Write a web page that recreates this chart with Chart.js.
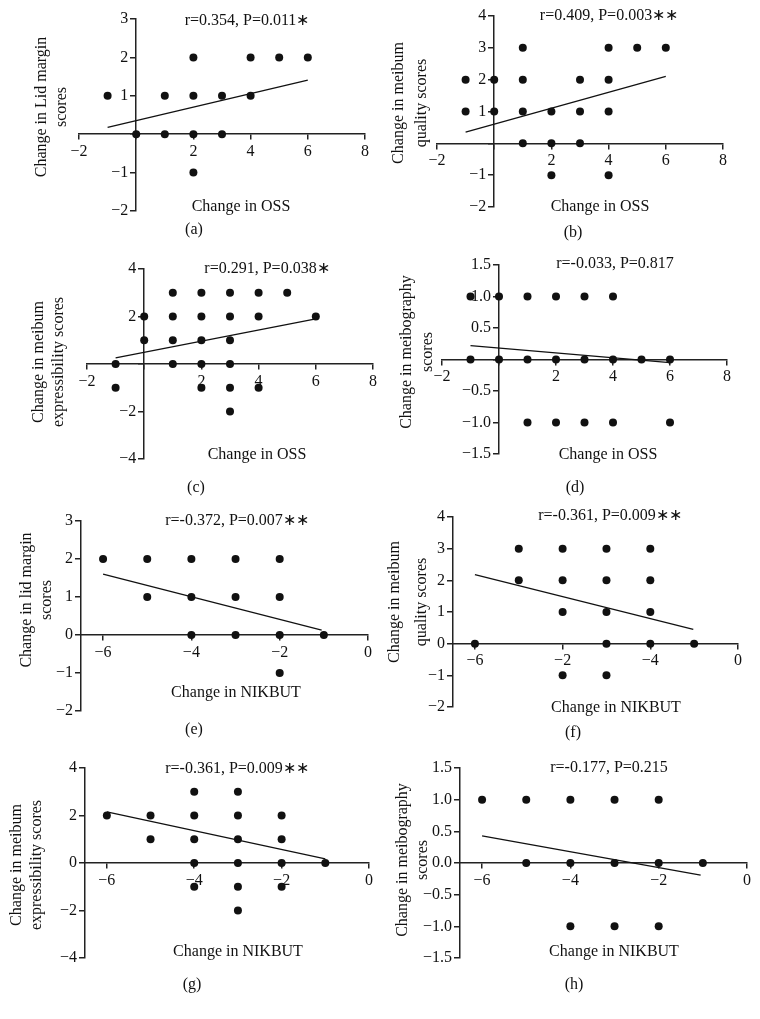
<!DOCTYPE html>
<html>
<head>
<meta charset="utf-8">
<script src="https://cdn.jsdelivr.net/npm/chart.js@4.4.1/dist/chart.umd.min.js"></script>
<style>
  html, body { margin: 0; padding: 0; background: #fff; }
  #page { position: relative; width: 760px; height: 1019px; overflow: hidden; }
  #page canvas { position: absolute; }
</style>
</head>
<body>
<div id="page"></div>
<script>
//panel data
const aX = [-1, 0, 1, 1, 2, 2, 2, 2, 3, 3, 4, 4, 5, 6];
const aY = [1, 0, 1, 0, 2, 1, 0, -1, 1, 0, 2, 1, 2, 2];
const aFitX = [-1, 6];
const aFitY = [0.18, 1.41];

const bX = [-1, -1, 0, 0, 1, 1, 1, 1, 2, 2, 2, 3, 3, 3, 4, 4, 4, 4, 5, 6];
const bY = [2, 1, 2, 1, 3, 2, 1, 0, 1, 0, -1, 2, 1, 0, 3, 2, 1, -1, 3, 3];
const bFitX = [-1, 6];
const bFitY = [0.35, 2.1];

const cX = [-1, -1, 0, 0, 1, 1, 1, 1, 2, 2, 2, 2, 2, 3, 3, 3, 3, 3, 3, 4, 4, 4, 5, 6];
const cY = [0, -1, 2, 1, 3, 2, 1, 0, 3, 2, 1, 0, -1, 3, 2, 1, 0, -1, -2, 3, 2, -1, 3, 2];
const cFitX = [-1, 6];
const cFitY = [0.26, 1.9];

const dX = [-1, 0, 1, 2, 3, 4, -1, 0, 1, 2, 3, 4, 5, 6, 1, 2, 3, 4, 6];
const dY = [1, 1, 1, 1, 1, 1, 0, 0, 0, 0, 0, 0, 0, 0, -1, -1, -1, -1, -1];
const dFitX = [-1, 6];
const dFitY = [0.22, -0.05];

const eX = [-6, -5, -4, -3, -2, -5, -4, -3, -2, -4, -3, -2, -1, -2];
const eY = [2, 2, 2, 2, 2, 1, 1, 1, 1, 0, 0, 0, 0, -1];
const eFitX = [-6, -1.05];
const eFitY = [1.6, 0.13];

const fX = [-6, -5, -5, -4, -4, -4, -4, -3, -3, -3, -3, -3, -2, -2, -2, -2, -1];
const fY = [0, 3, 2, 3, 2, 1, -1, 3, 2, 1, 0, -1, 3, 2, 1, 0, 0];
const fFitX = [-6, -1.02];
const fFitY = [2.18, 0.45];

const gX = [-6, -5, -5, -4, -4, -4, -4, -4, -3, -3, -3, -3, -3, -3, -2, -2, -2, -2, -1];
const gY = [2, 2, 1, 3, 2, 1, 0, -1, 3, 2, 1, 0, -1, -2, 2, 1, 0, -1, 0];
const gFitX = [-6, -1];
const gFitY = [2.15, 0.17];

const hX = [-6, -5, -4, -3, -2, -5, -4, -3, -2, -1, -4, -3, -2];
const hY = [1, 1, 1, 1, 1, 0, 0, 0, 0, 0, -1, -1, -1];
const hFitX = [-6, -1.05];
const hFitY = [0.43, -0.19];

//tick values and labels
const ossTicks = [-2, 0, 2, 4, 6, 8];
const ossLabels = ['−2', '', '2', '4', '6', '8'];
const nikTicks = [-6, -4, -2, 0];
const nikLabels = ['−6', '−4', '−2', '0'];
const nikLabelsF = ['−6', '−2', '−4', '0'];

const ticks5 = [-2, -1, 0, 1, 2, 3];
const ticks6 = [-2, -1, 0, 1, 2, 3, 4];
const ticksEven = [-4, -2, 0, 2, 4];
const ticksHalf = [-1.5, -1, -0.5, 0, 0.5, 1, 1.5];
const labels5 = ['−2', '−1', '', '1', '2', '3'];
const labels5Zero = ['−2', '−1', '0', '1', '2', '3'];
const labels6 = ['−2', '−1', '', '1', '2', '3', '4'];
const labels6Zero = ['−2', '−1', '0', '1', '2', '3', '4'];
const labelsEven = ['−4', '−2', '', '2', '4'];
const labelsEvenZero = ['−4', '−2', '0', '2', '4'];
const labelsHalf = ['−1.5', '−1.0', '−0.5', '', '0.5', '1.0', '1.5'];
const labelsHalfZero = ['−1.5', '−1.0', '−0.5', '0.0', '0.5', '1.0', '1.5'];

const FONT = '"Liberation Serif", "Times New Roman", serif';
const INK = '#111';

//layout of each panel, page coordinates
const panels = [
  { xs: aX, ys: aY, fitX: aFitX, fitY: aFitY, xMin: -2, xMax: 8, yMin: -2, yMax: 3, yAt: 0,
    xTicks: ossTicks, xLabels: ossLabels, yTicks: ticks5, yLabels: labels5,
    stat: 'r=0.354, P=0.011∗', yTitle: ['Change in Lid margin', 'scores'], xTitle: 'Change in OSS', tag: '(a)',
    cell: [0, 0, 250], area: [79, 19, 365, 211],
    statPos: [247, 21], yPos: [42, 62, 107], xPos: [241, 207], tagPos: [194, 230] },
  { xs: bX, ys: bY, fitX: bFitX, fitY: bFitY, xMin: -2, xMax: 8, yMin: -2, yMax: 4, yAt: 0,
    xTicks: ossTicks, xLabels: ossLabels, yTicks: ticks6, yLabels: labels6,
    stat: 'r=0.409, P=0.003∗∗', yTitle: ['Change in meibum', 'quality scores'], xTitle: 'Change in OSS', tag: '(b)',
    cell: [380, 0, 250], area: [437, 16, 723, 207],
    statPos: [609, 16], yPos: [399, 422, 103], xPos: [600, 207], tagPos: [573, 233] },
  { xs: cX, ys: cY, fitX: cFitX, fitY: cFitY, xMin: -2, xMax: 8, yMin: -4, yMax: 4, yAt: 0,
    xTicks: ossTicks, xLabels: ossLabels, yTicks: ticksEven, yLabels: labelsEven,
    stat: 'r=0.291, P=0.038∗', yTitle: ['Change in meibum', 'expressibility scores'], xTitle: 'Change in OSS', tag: '(c)',
    cell: [0, 250, 250], area: [87, 269, 373, 459],
    statPos: [267, 269], yPos: [39, 59, 362], xPos: [257, 455], tagPos: [196, 488] },
  { xs: dX, ys: dY, fitX: dFitX, fitY: dFitY, xMin: -2, xMax: 8, yMin: -1.5, yMax: 1.5, yAt: 0,
    xTicks: ossTicks, xLabels: ossLabels, yTicks: ticksHalf, yLabels: labelsHalf,
    stat: 'r=-0.033, P=0.817', yTitle: ['Change in meibography', 'scores'], xTitle: 'Change in OSS', tag: '(d)',
    cell: [380, 250, 250], area: [442, 265, 727, 454],
    statPos: [615, 264], yPos: [407, 428, 352], xPos: [608, 455], tagPos: [575, 488] },
  { xs: eX, ys: eY, fitX: eFitX, fitY: eFitY, xMin: -6.5, xMax: 0, yMin: -2, yMax: 3, yAt: -6.5,
    xTicks: nikTicks, xLabels: nikLabels, yTicks: ticks5, yLabels: labels5Zero,
    stat: 'r=-0.372, P=0.007∗∗', yTitle: ['Change in lid margin', 'scores'], xTitle: 'Change in NIKBUT', tag: '(e)',
    cell: [0, 500, 250], area: [81, 521, 368, 711],
    statPos: [237, 521], yPos: [27, 47, 600], xPos: [236, 693], tagPos: [194, 730] },
  { xs: fX, ys: fY, fitX: fFitX, fitY: fFitY, xMin: -6.5, xMax: 0, yMin: -2, yMax: 4, yAt: -6.5,
    xTicks: nikTicks, xLabels: nikLabelsF, yTicks: ticks6, yLabels: labels6Zero,
    stat: 'r=-0.361, P=0.009∗∗', yTitle: ['Change in meibum', 'quality scores'], xTitle: 'Change in NIKBUT', tag: '(f)',
    cell: [380, 500, 250], area: [453, 517, 738, 707],
    statPos: [610, 516], yPos: [395, 422, 602], xPos: [616, 708], tagPos: [573, 733] },
  { xs: gX, ys: gY, fitX: gFitX, fitY: gFitY, xMin: -6.5, xMax: 0, yMin: -4, yMax: 4, yAt: -6.5,
    xTicks: nikTicks, xLabels: nikLabels, yTicks: ticksEven, yLabels: labelsEvenZero,
    stat: 'r=-0.361, P=0.009∗∗', yTitle: ['Change in meibum', 'expressibility scores'], xTitle: 'Change in NIKBUT', tag: '(g)',
    cell: [0, 750, 269], area: [85, 768, 369, 958],
    statPos: [237, 769], yPos: [17, 37, 865], xPos: [238, 952], tagPos: [192, 985] },
  { xs: hX, ys: hY, fitX: hFitX, fitY: hFitY, xMin: -6.5, xMax: 0, yMin: -1.5, yMax: 1.5, yAt: -6.5,
    xTicks: nikTicks, xLabels: nikLabels, yTicks: ticksHalf, yLabels: labelsHalfZero,
    stat: 'r=-0.177, P=0.215', yTitle: ['Change in meibography', 'scores'], xTitle: 'Change in NIKBUT', tag: '(h)',
    cell: [380, 750, 269], area: [460, 768, 747, 958],
    statPos: [609, 768], yPos: [403, 423, 860], xPos: [614, 952], tagPos: [574, 985] }
];

//axis drawn through a value of the other axis, ticks only, no grid
//chart.js right-aligns y labels on the line itself here, so a small
//trailing gap pushes them clear of the tick marks
const axisOptions = (min, max, tickValues, tickLabels, position, gap) => ({
  type: 'linear',
  min: min,
  max: max,
  position: position,
  afterBuildTicks: (scale) => {
    scale.ticks = tickValues.map((v) => ({ value: v }));
  },
  ticks: {
    callback: (value, index) => (tickLabels[index] ? tickLabels[index] + gap : ''),
    autoSkip: false,
    maxRotation: 0,
    minRotation: 0,
    padding: 3,
    color: INK,
    font: { family: FONT, size: 16 },
  },
  grid: { drawOnChartArea: false, drawTicks: true, tickLength: 5, color: '#222', lineWidth: 1.5 },
  border: { display: true, color: '#222', width: 1.5 },
});

//texts placed like in the figure
const textPlugin = (p) => ({
  id: 'panelText',
  afterDraw(chart) {
    const ctx = chart.ctx;
    const ox = p.cell[0];
    const oy = p.cell[1];
    ctx.save();
    ctx.fillStyle = INK;
    ctx.font = '16px ' + FONT;
    ctx.textAlign = 'center';
    ctx.textBaseline = 'middle';
    ctx.fillText(p.stat, p.statPos[0] - ox, p.statPos[1] - oy);
    ctx.fillText(p.xTitle, p.xPos[0] - ox, p.xPos[1] - oy);
    ctx.fillText(p.tag, p.tagPos[0] - ox, p.tagPos[1] - oy);
    ctx.translate(0, p.yPos[2] - oy);
    ctx.rotate(-Math.PI / 2);
    ctx.fillText(p.yTitle[0], 0, p.yPos[0] - ox);
    ctx.fillText(p.yTitle[1], 0, p.yPos[1] - ox);
    ctx.restore();
  },
});

const page = document.getElementById('page');

panels.forEach((p) => {
  const [cx, cy, ch] = p.cell;
  const [l, t, r, b] = p.area;
  const canvas = document.createElement('canvas');
  canvas.width = 380;
  canvas.height = ch;
  canvas.style.left = cx + 'px';
  canvas.style.top = cy + 'px';
  page.appendChild(canvas);

  new Chart(canvas, {
    type: 'scatter',
    data: {
      datasets: [
        {
          data: p.xs.map((x, i) => ({ x: x, y: p.ys[i] })),
          backgroundColor: INK,
          borderColor: INK,
          borderWidth: 0,
          pointRadius: 4,
          pointHoverRadius: 4,
        },
        {
          data: p.fitX.map((x, i) => ({ x: x, y: p.fitY[i] })),
          showLine: true,
          borderColor: INK,
          borderWidth: 1.3,
          pointRadius: 0,
          fill: false,
        },
      ],
    },
    options: {
      responsive: false,
      animation: false,
      events: [],
      layout: { padding: { left: l - cx, top: t - cy, right: cx + 380 - r, bottom: cy + ch - b } },
      plugins: { legend: { display: false }, tooltip: { enabled: false } },
      scales: {
        x: axisOptions(p.xMin, p.xMax, p.xTicks, p.xLabels, { y: 0 }, ''),
        y: axisOptions(p.yMin, p.yMax, p.yTicks, p.yLabels, { x: p.yAt }, '  '),
      },
    },
    plugins: [textPlugin(p)],
  });
});
</script>
</body>
</html>
